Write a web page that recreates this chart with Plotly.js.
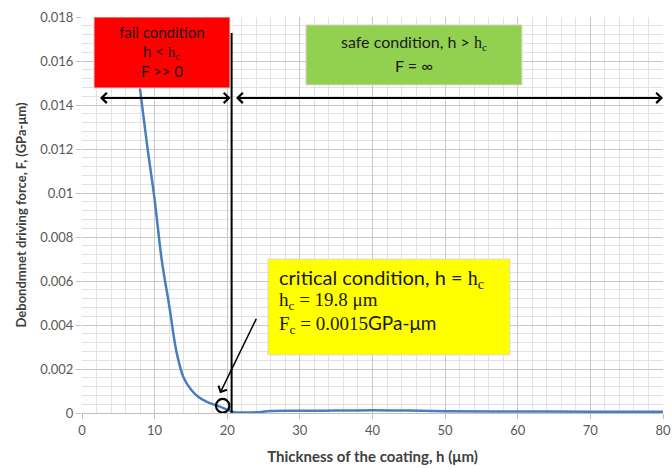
<!DOCTYPE html>
<html>
<head>
<meta charset="utf-8">
<script src="https://cdn.plot.ly/plotly-3.0.1.min.js"></script>
<style>html,body{margin:0;padding:0;background:#fff;}#chart{width:672px;height:469px;}</style>
</head>
<body>
<div id="chart"></div>
<script>
// Thickness of the coating h (µm)
const thickness = [6.5, 8, 9, 10, 11, 12, 13, 14, 15, 16, 17, 18, 19, 20, 21, 22, 24, 26, 30, 35, 40, 45, 50, 60, 70, 80];
// Debondment driving force F (GPa-µm)
const force = [0.0185, 0.0147, 0.0121, 0.0097, 0.0069, 0.0049, 0.0028, 0.0016, 0.00107, 0.00074, 0.00054, 0.00040, 0.00029, 0.00014, 0.00004, 0.00002, 0.00003, 0.00009, 0.0001, 0.00011, 0.00013, 0.00011, 0.00008, 0.00007, 0.00006, 0.00006];

const xTicks = [0, 10, 20, 30, 40, 50, 60, 70, 80];
const yTicks = [0, 0.002, 0.004, 0.006, 0.008, 0.01, 0.012, 0.014, 0.016, 0.018];
const yTickText = ['0', '0.002', '0.004', '0.006', '0.008', '0.01', '0.012', '0.014', '0.016', '0.018'];

const hc = 20.6;       // vertical line position
const arrowY = 0.01432;
const SERIF = "'Liberation Serif', 'DejaVu Serif', serif";
const SANS = "Lato, 'Open Sans', sans-serif";
const sub = (s) => '<span style="font-family:Liberation Serif">' + s + '</span>';

const trace = {
  x: thickness, y: force, type: 'scatter', mode: 'lines',
  line: {color: '#4a7ebb', width: 2.5, shape: 'spline', smoothing: 1},
  hoverinfo: 'skip'
};

const shapes = [
  {type: 'rect', xref: 'x', yref: 'y', x0: 1.65, x1: 20.38, y0: 0.01477, y1: 0.018,
   fillcolor: '#ff0000', line: {color: '#d9d9d9', width: 1}, layer: 'above'},
  {type: 'rect', xref: 'x', yref: 'y', x0: 30.84, x1: 60.58, y0: 0.01491, y1: 0.01764,
   fillcolor: '#92d050', line: {color: '#d9d9d9', width: 1}, layer: 'above'},
  {type: 'rect', xref: 'x', yref: 'y', x0: 25.61, x1: 58.93, y0: 0.00264, y1: 0.0070,
   fillcolor: '#ffff00', line: {color: '#d9d9d9', width: 1}, layer: 'above'},
  {type: 'line', xref: 'x', yref: 'y', x0: hc, x1: hc, y0: 0, y1: 0.01727,
   line: {color: '#000000', width: 2}, layer: 'above'},
  {type: 'circle', xref: 'x', yref: 'y', x0: 18.45, x1: 20.3, y0: 0.00002, y1: 0.00064,
   line: {color: '#000000', width: 2.2}, layer: 'above'}
];

const textColor = '#1a1a1a';
const py = (p) => 1 - (p - 17) / 396;
const annotations = [
  // double arrows
  {xref: 'x', yref: 'y', axref: 'x', ayref: 'y', x: 20.45, y: arrowY, ax: 2.07, ay: arrowY,
   text: ' ', showarrow: true, arrowhead: 4, startarrowhead: 4, arrowside: 'end+start',
   arrowwidth: 2, arrowsize: 1, startarrowsize: 1, arrowcolor: '#000', standoff: 0, startstandoff: 0},
  {xref: 'x', yref: 'y', axref: 'x', ayref: 'y', x: 80, y: arrowY, ax: 20.8, ay: arrowY,
   text: ' ', showarrow: true, arrowhead: 4, startarrowhead: 4, arrowside: 'end+start',
   arrowwidth: 2, arrowsize: 1, startarrowsize: 1, arrowcolor: '#000', standoff: 0, startstandoff: 0},
  // diagonal arrow to critical point
  {xref: 'x', yref: 'y', axref: 'x', ayref: 'y', x: 19.0, y: 0.0009, ax: 24.41, ay: 0.00456,
   text: ' ', showarrow: true, arrowhead: 4, arrowwidth: 1.5, arrowsize: 1.2, arrowcolor: '#000', standoff: 0},
  // fail box text
  {xref: 'x', yref: 'paper', x: 11.0, y: py(32), text: 'fail condition', showarrow: false,
   font: {family: SANS, size: 15, color: textColor}, xanchor: 'center', yanchor: 'middle'},
  {xref: 'x', yref: 'paper', x: 11.0, y: py(52), text: 'h &lt; ' + sub('h<sub>c</sub>'), showarrow: false,
   font: {family: SANS, size: 15, color: textColor}, xanchor: 'center', yanchor: 'middle'},
  {xref: 'x', yref: 'paper', x: 11.0, y: py(71), text: 'F &gt;&gt; 0', showarrow: false,
   font: {family: SANS, size: 15, color: textColor}, xanchor: 'center', yanchor: 'middle'},
  // safe box text
  {xref: 'x', yref: 'paper', x: 45.7, y: py(43), text: 'safe condition, h &gt; ' + sub('h<sub>c</sub>'), showarrow: false,
   font: {family: SANS, size: 16, color: textColor}, xanchor: 'center', yanchor: 'middle'},
  {xref: 'x', yref: 'paper', x: 45.7, y: py(65), text: 'F = ∞', showarrow: false,
   font: {family: SANS, size: 16, color: textColor}, xanchor: 'center', yanchor: 'middle'},
  // critical box text
  {xref: 'x', yref: 'paper', x: 26.9, y: py(278), text: 'critical condition, h = ' + sub('h<sub>c</sub>'), showarrow: false,
   font: {family: SANS, size: 20, color: textColor}, xanchor: 'left', yanchor: 'middle'},
  {xref: 'x', yref: 'paper', x: 26.9, y: py(301), text: 'h<sub>c</sub> = 19.8 μm', showarrow: false,
   font: {family: SERIF, size: 19, color: textColor}, xanchor: 'left', yanchor: 'middle'},
  {xref: 'x', yref: 'paper', x: 26.9, y: py(324), text: 'F<sub>c</sub> = 0.0015<span style="font-family:Lato">GPa-μm</span>', showarrow: false,
   font: {family: SERIF, size: 19, color: textColor}, xanchor: 'left', yanchor: 'middle'}
];

const layout = {
  width: 672, height: 469,
  margin: {l: 82, r: 9, t: 17, b: 56},
  paper_bgcolor: '#ffffff', plot_bgcolor: '#ffffff',
  showlegend: false,
  font: {family: SANS, color: '#595959', size: 13},
  xaxis: {
    range: [0, 80], tickmode: 'array', tickvals: xTicks,
    showgrid: true, gridcolor: '#c8c8c8', gridwidth: 1,
    minor: {dtick: 2, showgrid: true, gridcolor: '#e2e2e2', gridwidth: 1},
    zeroline: false, showline: false,
    ticks: 'outside', ticklen: 5, tickcolor: '#bfbfbf',
    tickfont: {family: SANS, size: 13, color: '#595959'},
    title: {text: '<b>Thickness of the coating, h (μm)</b>', font: {family: SANS, size: 15, color: '#404040'}, standoff: 14}
  },
  yaxis: {
    range: [0, 0.018], tickmode: 'array', tickvals: yTicks, ticktext: yTickText,
    showgrid: true, gridcolor: '#c8c8c8', gridwidth: 1,
    minor: {dtick: 0.0004, showgrid: true, gridcolor: '#e2e2e2', gridwidth: 1},
    zeroline: true, zerolinecolor: '#bfbfbf', zerolinewidth: 1, showline: false,
    ticks: 'outside', ticklen: 5, tickcolor: '#bfbfbf',
    tickfont: {family: SANS, size: 13, color: '#595959'},
    title: {text: '<b>Debondmnet driving force, F, (GPa-μm)</b>', font: {family: SANS, size: 13, color: '#404040'}, standoff: 10}
  },
  shapes: shapes,
  annotations: annotations
};

Plotly.newPlot('chart', [trace], layout, {displayModeBar: false, staticPlot: true});
</script>
</body>
</html>
